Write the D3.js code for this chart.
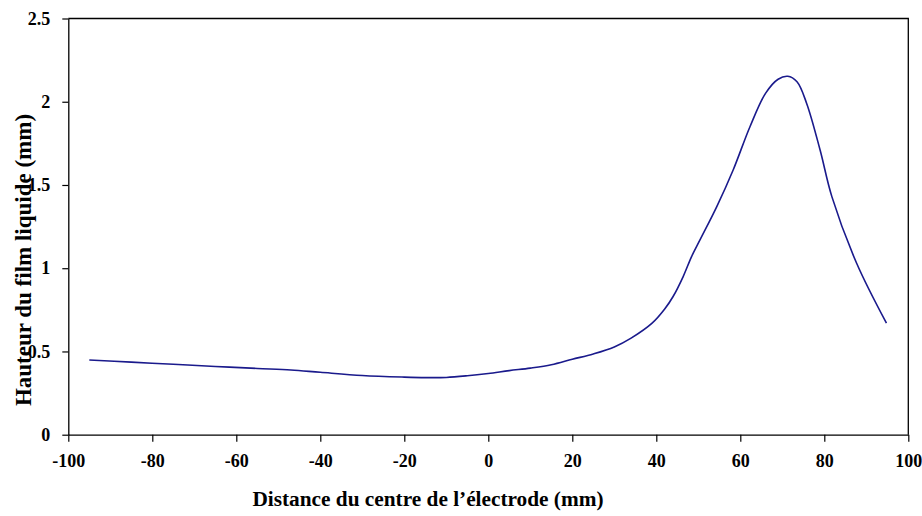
<!DOCTYPE html>
<html>
<head>
<meta charset="utf-8">
<script src="https://cdn.jsdelivr.net/npm/d3@7"></script>
<style>
  html, body { margin: 0; padding: 0; background: #fff; }
  svg { display: block; }
  text { font-family: "Liberation Serif", "Times New Roman", serif; font-weight: bold; fill: #000; }
</style>
</head>
<body>
<svg id="chart" width="922" height="516"></svg>
<script>
// Data
const distances = [-95, -85, -75, -65, -55, -47, -40, -30, -20, -15, -10, -5, 0, 5, 10, 15, 20, 25, 30, 34, 39, 42, 44, 46.4, 48.4, 50.4, 54.4, 58.3, 62.3, 66, 69, 71.3, 73.5, 75.8, 79, 81.8, 87.7, 94.8];
const heights   = [0.449, 0.436, 0.423, 0.410, 0.398, 0.389, 0.375, 0.356, 0.346, 0.343, 0.344, 0.354, 0.368, 0.385, 0.400, 0.420, 0.453, 0.485, 0.527, 0.58, 0.67, 0.755, 0.83, 0.95, 1.07, 1.17, 1.37, 1.59, 1.85, 2.05, 2.135, 2.153, 2.12, 1.99, 1.71, 1.43, 1.03, 0.67];
const xTicks = [-100, -80, -60, -40, -20, 0, 20, 40, 60, 80, 100];
const yTicks = [0, 0.5, 1, 1.5, 2, 2.5];
const xTitle = "Distance du centre de l\u2019électrode (mm)";
const yTitle = "Hauteur du film liquide (mm)";

const svg = d3.select("#chart");
const mLeft = 68.3, mRight = 908.3, mTop = 18.5, mBottom = 434.7;

const x = d3.scaleLinear().domain([-100, 100]).range([mLeft, mRight]);
const y = d3.scaleLinear().domain([0, 2.5]).range([mBottom, mTop]);

// plot border (top and right)
svg.append("path")
  .attr("d", `M${mLeft},${mTop}H${mRight}V${mBottom}`)
  .attr("fill", "none").attr("stroke", "#000").attr("stroke-width", 1.3);

// x axis
const gx = svg.append("g").attr("transform", `translate(0,${mBottom})`)
  .call(d3.axisBottom(x).tickValues(xTicks).tickSize(7).tickSizeOuter(0).tickPadding(13)
    .tickFormat(d => String(d)));
gx.select(".domain").attr("stroke", "#000").attr("stroke-width", 1.3);
gx.selectAll(".tick line").attr("stroke", "#000").attr("stroke-width", 1.2);
gx.selectAll("text").style("font-size", "18px").attr("font-family", null).attr("fill", "#000");

// y axis
const gy = svg.append("g").attr("transform", `translate(${mLeft},0)`)
  .call(d3.axisLeft(y).tickValues(yTicks).tickSize(6).tickSizeOuter(0).tickPadding(12)
    .tickFormat(d => String(d)));
gy.select(".domain").attr("stroke", "#000").attr("stroke-width", 1.3);
gy.selectAll(".tick line").attr("stroke", "#000").attr("stroke-width", 1.2);
gy.selectAll("text").style("font-size", "18px").attr("font-family", null).attr("fill", "#000");

// line
const data = distances.map((d, i) => ({ x: d, y: heights[i] }));
svg.append("path").datum(data)
  .attr("fill", "none")
  .attr("stroke", "#1a1a8c")
  .attr("stroke-width", 1.6)
  .attr("d", d3.line().x(d => x(d.x)).y(d => y(d.y)).curve(d3.curveCatmullRom.alpha(0.5)));

// titles
svg.append("text").attr("x", 428).attr("y", 506).attr("text-anchor", "middle")
  .style("font-size", "21.3px").text(xTitle);
svg.append("text").attr("transform", "translate(31,260) rotate(-90)").attr("text-anchor", "middle")
  .style("font-size", "23px").text(yTitle);
</script>
</body>
</html>
